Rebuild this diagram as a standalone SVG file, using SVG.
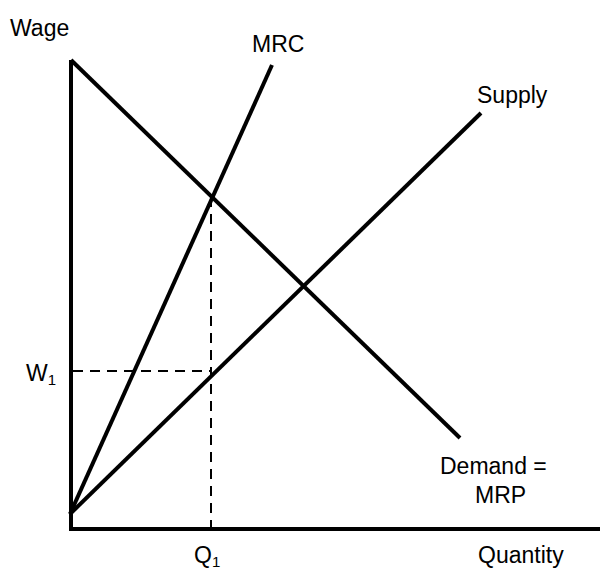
<svg xmlns="http://www.w3.org/2000/svg" width="612" height="588" viewBox="0 0 612 588">
<style>
.l{stroke:#000;stroke-width:4;fill:none;stroke-linecap:butt}
.d{stroke:#000;stroke-width:2;fill:none;stroke-dasharray:10,7}
text{font-family:"Liberation Sans",Arial,sans-serif;font-size:23px;fill:#000}
.s{font-size:15px}
</style>
<rect width="612" height="588" fill="#fff"/>
<g id="axes">
<line class="l" x1="71" y1="60" x2="71" y2="529"/>
<line class="l" x1="69" y1="529" x2="600" y2="529"/>
</g>
<g id="connectors">
<line class="l" x1="71" y1="60" x2="460" y2="438"/>
<line class="l" x1="70" y1="514" x2="272" y2="65"/>
<line class="l" x1="70" y1="514" x2="481" y2="113"/>
<line class="d" x1="211" y1="197" x2="211" y2="529"/>
<line class="d" x1="73" y1="371" x2="211" y2="371"/>
</g>
<g id="labels">
<text x="10" y="36">Wage</text>
<text x="252" y="52">MRC</text>
<text x="477" y="103">Supply</text>
<text x="26" y="381">W<tspan class="s" dy="4">1</tspan></text>
<text x="194" y="563">Q<tspan class="s" dy="4">1</tspan></text>
<text x="478" y="563">Quantity</text>
<text x="440" y="474">Demand =</text>
<text x="475" y="503">MRP</text>
</g>
</svg>
